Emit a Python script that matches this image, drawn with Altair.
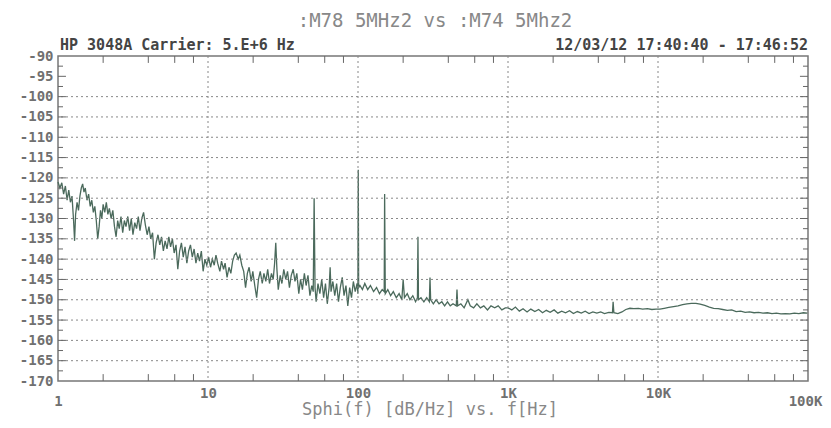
import altair as alt
import pandas as pd

# ---------------- data ----------------
freq_hz = [
    1.00, 1.03, 1.06, 1.09, 1.12, 1.15, 1.18, 1.21, 1.24, 1.27, 1.29, 1.31, 1.34, 1.37, 1.40, 1.43, 1.46, 1.49,
    1.52, 1.56, 1.60, 1.64, 1.68, 1.72, 1.76, 1.80, 1.84, 1.88, 1.92, 1.96, 2.00, 2.05, 2.10, 2.15, 2.20, 2.26,
    2.32, 2.38, 2.44, 2.50, 2.56, 2.63, 2.70, 2.77, 2.84, 2.92, 3.00, 3.08, 3.16, 3.25, 3.34, 3.43, 3.52, 3.62,
    3.72, 3.82, 3.93, 4.04, 4.15, 4.27, 4.39, 4.51, 4.64, 4.77, 4.90, 5.04, 5.18, 5.33, 5.48, 5.63, 5.79, 5.95,
    6.12, 6.29, 6.47, 6.65, 6.84, 7.03, 7.23, 7.43, 7.64, 7.86, 8.08, 8.31, 8.54, 8.78, 9.03, 9.28, 9.54, 9.81,
    10.1, 10.4, 10.7, 11.0, 11.3, 11.6, 12.0, 12.3, 12.7, 13.0, 13.4, 13.8, 14.2, 14.6, 15.0, 15.4, 15.9, 16.3,
    16.8, 17.3, 17.8, 18.3, 18.8, 19.4, 19.9, 20.5, 21.1, 21.7, 22.3, 23.0, 23.6, 24.3, 25.0, 25.7, 26.5, 27.2,
    27.8, 28.3, 28.8, 29.4, 30.3, 31.1, 32.0, 33.0, 33.9, 34.9, 35.9, 37.0, 38.0, 39.1, 40.3, 41.4, 42.6, 43.9,
    45.1, 46.4, 47.8, 49.2, 50.3, 51.0, 51.7, 52.6, 54.1, 55.7, 57.3, 59.0, 60.7, 62.4, 64.2, 65.2, 66.1, 68.0,
    70.0, 72.0, 74.1, 76.2, 78.5, 80.7, 83.1, 85.5, 88.0, 90.5, 93.1, 95.8, 98.6, 99.8, 100.4, 101.0,
    103, 107, 111, 116, 121, 127, 133, 139, 145, 149.5, 150.5, 152, 158, 165, 172, 180, 188, 196, 200, 204,
    213, 222, 232, 242, 249, 251, 253, 263, 275, 287, 299, 302, 305, 318, 332, 347, 362, 378, 395, 412, 430,
    452, 457, 462, 485, 510, 540, 560, 590, 620, 655, 690, 730, 770, 815, 860, 910, 960,
    1000, 1060, 1120, 1190, 1260, 1340, 1420, 1510, 1600, 1700, 1800, 1910, 2030, 2150, 2280, 2420, 2570,
    2730, 2900, 3080, 3270, 3470, 3680, 3910, 4150, 4400, 4700, 4970, 5020, 5080, 5400, 5750, 6100, 6500,
    6900, 7400, 7900, 8500, 9100, 9700,
    10300, 11000, 11800, 12700, 13600, 14600, 15600, 16700, 17900, 19100, 20500, 22000, 23500, 25200, 27000,
    29000, 31000, 33200, 35600, 38100, 40800, 43700, 46800, 50100, 53700, 57500, 61600, 66000, 70700, 75700,
    81100, 86900, 93100, 99000,
]

sphi_db = [
    -121.0, -122.5, -121.2, -124.0, -122.0, -125.5, -123.0, -126.0, -124.5, -130.5, -135.5, -129.0, -126.0, -128.0,
    -124.5, -122.5, -121.5, -123.5, -122.5, -125.5, -124.0, -127.0, -125.5, -128.5, -127.0, -130.5, -135.0, -132.0,
    -128.0, -130.0, -126.5, -128.5, -126.0, -129.0, -127.5, -130.0, -128.0, -132.0, -134.5, -130.5, -132.5, -129.5,
    -133.5, -130.5, -132.0, -129.5, -133.0, -130.0, -134.0, -131.0, -132.5, -129.5, -133.0, -130.0, -128.5, -131.5,
    -134.0, -132.0, -135.0, -133.5, -140.0, -136.0, -134.0, -136.5, -134.5, -138.0, -135.5, -137.5, -134.5, -137.0,
    -135.0, -138.5, -136.5, -142.5, -138.0, -136.0, -139.5, -137.0, -141.0, -138.0, -136.5, -139.5, -137.5, -141.0,
    -138.5, -140.5, -138.0, -143.0, -140.0, -141.5,
    -139.5, -142.0, -140.0, -141.5, -139.0, -141.0, -143.0, -140.5, -142.5, -141.0, -144.5, -142.0, -143.5, -140.5,
    -139.0, -138.5, -140.0, -139.0, -141.5, -143.0, -147.0, -143.5, -142.0, -145.5, -143.0, -146.5, -149.5, -145.0,
    -143.0, -146.0, -143.5, -145.5, -142.5, -146.0, -143.5, -145.0, -141.0, -136.0, -142.5, -147.5, -144.0, -146.0,
    -142.5, -145.0, -143.0, -147.0, -144.0, -142.5, -145.5, -143.5, -148.5, -145.0, -147.5, -143.5, -146.5, -144.0,
    -149.0, -146.5, -148.0, -125.0, -147.0, -150.5, -146.0, -148.5, -145.0, -149.5, -146.0, -151.0, -147.0, -142.0,
    -148.0, -145.5, -149.0, -146.0, -150.5, -147.0, -144.5, -149.0, -146.5, -151.5, -147.0, -149.5, -145.5, -148.0,
    -146.0, -148.5, -118.0, -147.0,
    -146.5, -147.5, -146.0, -147.5, -146.5, -148.0, -147.0, -148.5, -147.5, -148.0, -124.0, -148.5, -147.5, -149.0,
    -148.0, -149.5, -148.5, -150.0, -145.0, -149.5, -148.5, -150.0, -149.0, -150.5, -149.5, -134.5, -150.0, -149.5,
    -150.5, -149.5, -150.5, -144.5, -150.0, -151.0, -150.0, -151.0, -150.5, -151.5, -150.5, -151.5, -151.0, -151.5,
    -147.5, -151.5, -151.0, -152.0, -150.0, -151.5, -152.0, -151.0, -152.0, -151.5, -152.5, -151.5, -152.0, -151.5,
    -152.5, -152.0,
    -152.0, -152.5, -151.8, -152.8, -152.2, -153.0, -152.3, -152.9, -152.4, -153.2, -152.6, -153.1, -152.5, -153.3,
    -152.8, -153.2, -152.7, -153.4, -152.9, -153.3, -152.8, -153.4, -153.0, -153.3, -153.0, -153.4, -153.1, -153.2,
    -150.5, -153.2, -153.4, -153.0, -152.4, -152.1, -152.2, -152.1, -152.3, -152.2, -152.4, -152.3,
    -152.3, -152.1, -151.9, -151.7, -151.5, -151.2, -151.0, -150.9, -150.9, -151.1, -151.4, -151.8, -152.1, -152.2,
    -152.4, -152.6, -152.5, -152.9, -152.8, -153.1, -153.0, -153.2, -153.1, -153.3, -153.2, -153.4, -153.3, -153.5,
    -153.4, -153.5, -153.3, -153.4, -153.2, -153.3,
]

y_label_db = [-90, -95, -100, -105, -110, -115, -120, -125, -130, -135, -140, -145, -150, -155, -160, -165, -170]
grid_db = [-100, -105, -110, -115, -120, -125, -130, -135, -140, -145, -150, -155, -160, -165]
grid_hz = [10, 100, 1000, 10000]
x_label_hz = [1, 10, 100, 1000, 10000, 100000]
minor_hz = [2, 4, 6, 8, 20, 40, 60, 80, 200, 400, 600, 800, 2000, 4000, 6000, 8000, 20000, 40000, 60000, 80000]
major_tick_db = [-95, -100, -105, -110, -115, -120, -125, -130, -135, -140, -145, -150, -155, -160, -165]
half_tick_db = [-92.5, -97.5, -102.5, -107.5, -112.5, -117.5, -122.5, -127.5, -132.5, -137.5, -142.5, -147.5,
                -152.5, -157.5, -162.5, -167.5]
# inner ends of the frame ticks (in axis units)
tick_end_bottom, tick_end_top = -168.3, -91.7
tick_end_left_long, tick_end_left_short = 1.13, 1.08
tick_end_right_long, tick_end_right_short = 88400, 92600

title_text = ":M78 5MHz2 vs :M74 5Mhz2"
header_left = "HP 3048A  Carrier: 5.E+6 Hz"
header_right = "12/03/12  17:40:40 - 17:46:52"
x_title = "Sphi(f) [dB/Hz] vs. f[Hz]"

MONO = "DejaVu Sans Mono"
W, H = 750, 325

xs = alt.Scale(type="log", domain=[1, 100000], nice=False)
ys = alt.Scale(domain=[-170, -90], nice=False, zero=False)

x_axis = alt.Axis(
    values=x_label_hz,
    labelExpr="datum.value >= 1000 ? (datum.value / 1000) + 'K' : '' + datum.value",
    ticks=False, tickSize=0, domain=False, grid=False, title=None,
    labelFont=MONO, labelFontSize=14, labelFontWeight="bold", labelColor="#707070",
    labelPadding={"condition": {"test": "datum.value == 1 || datum.value == 100000", "value": 13}, "value": 5},
    labelOffset={"condition": {"test": "datum.value == 100000", "value": -3}, "value": 0},
    labelOverlap=False, labelFlush=False,
)
y_axis = alt.Axis(
    values=y_label_db, labelExpr="'' + datum.value",
    ticks=False, tickSize=0, domain=False, grid=False, title=None,
    labelFont=MONO, labelFontSize=14, labelFontWeight="bold", labelColor="#707070",
    labelPadding=5, labelOverlap=False,
)


def X(field="f"):
    return alt.X(f"{field}:Q", scale=xs, axis=x_axis)


def Y(field="v"):
    return alt.Y(f"{field}:Q", scale=ys, axis=y_axis)


trace = alt.Chart(pd.DataFrame({"f": freq_hz, "v": sphi_db})).mark_line(
    color="#4b6a5c", strokeWidth=1.3
).encode(x=X(), y=Y())

hgrid = alt.Chart(pd.DataFrame({"v": grid_db})).mark_rule(
    color="#888", strokeDash=[2, 3], strokeWidth=1
).encode(y=Y())

vgrid = alt.Chart(pd.DataFrame({"f": grid_hz})).mark_rule(
    color="#888", strokeDash=[2, 3], strokeWidth=1
).encode(x=X())


def xticks(yval, yend):
    d = pd.DataFrame({"f": minor_hz, "v": [yval] * len(minor_hz), "v2": [yend] * len(minor_hz)})
    return alt.Chart(d).mark_rule(color="#666", strokeWidth=1).encode(
        x=X(), y=Y(), y2=alt.Y2("v2"))


def yticks(vals, xval, xend):
    d = pd.DataFrame({"f": [xval] * len(vals), "f2": [xend] * len(vals), "v": vals})
    return alt.Chart(d).mark_rule(color="#666", strokeWidth=1).encode(
        x=X(), x2=alt.X2("f2"), y=Y())


def label(txt, x, y, size, weight, color, align):
    return alt.Chart(pd.DataFrame({"t": [txt]})).mark_text(
        font=MONO, fontSize=size, fontWeight=weight, color=color, align=align, baseline="middle"
    ).encode(text="t:N", x=alt.value(x), y=alt.value(y))


chart = alt.layer(
    trace, hgrid, vgrid,
    xticks(-170, tick_end_bottom), xticks(-90, tick_end_top),
    yticks(major_tick_db, 1, tick_end_left_long), yticks(half_tick_db, 1, tick_end_left_short),
    yticks(major_tick_db, 100000, tick_end_right_long), yticks(half_tick_db, 100000, tick_end_right_short),
    label(title_text, 377, -35, 19, "normal", "#888", "center"),
    label(header_left, 2, -11, 15, "bold", "#444", "left"),
    label(header_right, 750, -11, 15, "bold", "#444", "right"),
    label(x_title, 372, 354, 17, "normal", "#888", "center"),
).properties(
    width=W, height=H,
    autosize=alt.AutoSizeParams(type="none"),
    padding={"left": 50, "top": 48, "right": 15, "bottom": 40},
    background="white",
).configure_view(stroke="#777", strokeWidth=1.5)

chart.save("out.html", embed_options={"renderer": "svg", "actions": False})
